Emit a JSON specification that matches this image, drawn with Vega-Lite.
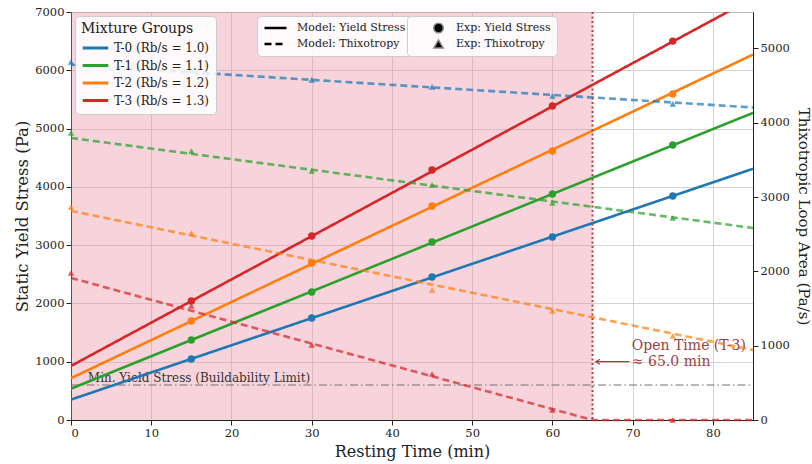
{
  "$schema": "https://vega.github.io/schema/vega-lite/v6.json",
  "width": 682,
  "height": 408,
  "autosize": {"type": "none"},
  "padding": {"left": 71, "top": 12, "right": 59, "bottom": 44},
  "background": "white",
  "config": {
    "font": "DejaVu Serif",
    "view": {"stroke": "#222222", "strokeWidth": 1},
    "axis": {
      "labelFont": "DejaVu Serif",
      "labelFontSize": 11.5,
      "labelColor": "#222222",
      "titleFont": "DejaVu Serif",
      "titleFontSize": 15,
      "titleFontWeight": "normal",
      "titleColor": "#222222",
      "domainColor": "#222222",
      "tickColor": "#222222",
      "tickSize": 5,
      "gridColor": "#cfcfcf",
      "gridWidth": 0.9,
      "format": "d"
    },
    "legend": {
      "labelFont": "DejaVu Serif",
      "titleFont": "DejaVu Serif",
      "labelFontSize": 12,
      "labelColor": "#222222",
      "titleFontSize": 14,
      "titleFontWeight": "normal",
      "titleColor": "#222222",
      "fillColor": "rgba(255,255,255,0.85)",
      "strokeColor": "#cccccc",
      "cornerRadius": 4,
      "padding": 6
    }
  },
  "datasets": {
    "zone": [{"t": 0, "t2": 65}],
    "openTime": [{"t": 65}],
    "minYield": [{"t": 0, "t2": 85, "ys": 600}],
    "minYieldLabel": [{"t": 2.1, "ys": 720, "label": "Min. Yield Stress (Buildability Limit)"}],
    "arrow": [{"t": 69.6, "t2": 65.4, "ys": 1000}],
    "arrowHead": [{"t": 65.4, "ys": 1000}],
    "openTimeLabel": [{"t": 69.9, "ys": 1270, "label": ["Open Time (T-3)", "≈ 65.0 min"]}],
    "yieldModel": [
      {"group": "T-0", "kind": "Model: Yield Stress", "t": 0, "ys": 350}, {"group": "T-0", "kind": "Model: Yield Stress", "t": 85, "ys": 4310},
      {"group": "T-1", "kind": "Model: Yield Stress", "t": 0, "ys": 537}, {"group": "T-1", "kind": "Model: Yield Stress", "t": 85, "ys": 5270},
      {"group": "T-2", "kind": "Model: Yield Stress", "t": 0, "ys": 718}, {"group": "T-2", "kind": "Model: Yield Stress", "t": 85, "ys": 6270},
      {"group": "T-3", "kind": "Model: Yield Stress", "t": 0, "ys": 928}, {"group": "T-3", "kind": "Model: Yield Stress", "t": 85, "ys": 7235}
    ],
    "yieldExp": [
      {"group": "T-0", "kind": "Exp: Yield Stress", "t": 15, "ys": 1046},
      {"group": "T-0", "kind": "Exp: Yield Stress", "t": 30, "ys": 1750},
      {"group": "T-0", "kind": "Exp: Yield Stress", "t": 45, "ys": 2453},
      {"group": "T-0", "kind": "Exp: Yield Stress", "t": 60, "ys": 3139},
      {"group": "T-0", "kind": "Exp: Yield Stress", "t": 75, "ys": 3842},
      {"group": "T-1", "kind": "Exp: Yield Stress", "t": 15, "ys": 1372},
      {"group": "T-1", "kind": "Exp: Yield Stress", "t": 30, "ys": 2196},
      {"group": "T-1", "kind": "Exp: Yield Stress", "t": 45, "ys": 3053},
      {"group": "T-1", "kind": "Exp: Yield Stress", "t": 60, "ys": 3877},
      {"group": "T-1", "kind": "Exp: Yield Stress", "t": 75, "ys": 4717},
      {"group": "T-2", "kind": "Exp: Yield Stress", "t": 15, "ys": 1698},
      {"group": "T-2", "kind": "Exp: Yield Stress", "t": 30, "ys": 2693},
      {"group": "T-2", "kind": "Exp: Yield Stress", "t": 45, "ys": 3671},
      {"group": "T-2", "kind": "Exp: Yield Stress", "t": 60, "ys": 4614},
      {"group": "T-2", "kind": "Exp: Yield Stress", "t": 75, "ys": 5592},
      {"group": "T-3", "kind": "Exp: Yield Stress", "t": 15, "ys": 2041},
      {"group": "T-3", "kind": "Exp: Yield Stress", "t": 30, "ys": 3156},
      {"group": "T-3", "kind": "Exp: Yield Stress", "t": 45, "ys": 4288},
      {"group": "T-3", "kind": "Exp: Yield Stress", "t": 60, "ys": 5386},
      {"group": "T-3", "kind": "Exp: Yield Stress", "t": 75, "ys": 6501}
    ],
    "thixoModel": [
      {"group": "T-0", "kind": "Model: Thixotropy", "t": 0, "area": 4780}, {"group": "T-0", "kind": "Model: Thixotropy", "t": 85, "area": 4205},
      {"group": "T-1", "kind": "Model: Thixotropy", "t": 0, "area": 3795}, {"group": "T-1", "kind": "Model: Thixotropy", "t": 85, "area": 2584},
      {"group": "T-2", "kind": "Model: Thixotropy", "t": 0, "area": 2813}, {"group": "T-2", "kind": "Model: Thixotropy", "t": 85, "area": 942},
      {"group": "T-3", "kind": "Model: Thixotropy", "t": 0, "area": 1911}, {"group": "T-3", "kind": "Model: Thixotropy", "t": 65, "area": 0},
      {"group": "T-3", "kind": "Model: Thixotropy", "t": 85, "area": 0}
    ],
    "thixoExp": [
      {"group": "T-0", "kind": "Exp: Thixotropy", "t": 0, "area": 4818},
      {"group": "T-0", "kind": "Exp: Thixotropy", "t": 15, "area": 4710},
      {"group": "T-0", "kind": "Exp: Thixotropy", "t": 30, "area": 4576},
      {"group": "T-0", "kind": "Exp: Thixotropy", "t": 45, "area": 4482},
      {"group": "T-0", "kind": "Exp: Thixotropy", "t": 60, "area": 4360},
      {"group": "T-0", "kind": "Exp: Thixotropy", "t": 75, "area": 4253},
      {"group": "T-1", "kind": "Exp: Thixotropy", "t": 0, "area": 3863},
      {"group": "T-1", "kind": "Exp: Thixotropy", "t": 15, "area": 3620},
      {"group": "T-1", "kind": "Exp: Thixotropy", "t": 30, "area": 3351},
      {"group": "T-1", "kind": "Exp: Thixotropy", "t": 45, "area": 3163},
      {"group": "T-1", "kind": "Exp: Thixotropy", "t": 60, "area": 2920},
      {"group": "T-1", "kind": "Exp: Thixotropy", "t": 75, "area": 2719},
      {"group": "T-2", "kind": "Exp: Thixotropy", "t": 0, "area": 2867},
      {"group": "T-2", "kind": "Exp: Thixotropy", "t": 15, "area": 2517},
      {"group": "T-2", "kind": "Exp: Thixotropy", "t": 30, "area": 2113},
      {"group": "T-2", "kind": "Exp: Thixotropy", "t": 45, "area": 1750},
      {"group": "T-2", "kind": "Exp: Thixotropy", "t": 60, "area": 1467},
      {"group": "T-2", "kind": "Exp: Thixotropy", "t": 75, "area": 1130},
      {"group": "T-3", "kind": "Exp: Thixotropy", "t": 0, "area": 1978},
      {"group": "T-3", "kind": "Exp: Thixotropy", "t": 15, "area": 1534},
      {"group": "T-3", "kind": "Exp: Thixotropy", "t": 30, "area": 1009},
      {"group": "T-3", "kind": "Exp: Thixotropy", "t": 45, "area": 619},
      {"group": "T-3", "kind": "Exp: Thixotropy", "t": 60, "area": 135},
      {"group": "T-3", "kind": "Exp: Thixotropy", "t": 75, "area": 0}
    ]
  },
  "encoding": {
    "x": {
      "field": "t",
      "type": "quantitative",
      "scale": {"domain": [0, 85], "nice": false, "zero": false},
      "axis": {
        "title": "Resting Time (min)",
        "values": [0, 10, 20, 30, 40, 50, 60, 70, 80],
        "grid": true,
        "titleFontSize": 16,
        "titlePadding": 5
      }
    }
  },
  "layer": [
    {
      "data": {"name": "zone"},
      "mark": {"type": "rect", "color": "#e8899a", "opacity": 0.36},
      "encoding": {"x2": {"field": "t2"}}
    },
    {
      "layer": [
        {
          "data": {"name": "minYield"},
          "mark": {"type": "rule", "color": "#707070", "strokeWidth": 1, "strokeDash": [8, 3, 1.5, 3]},
          "encoding": {
            "x2": {"field": "t2"},
            "y": {"field": "ys", "type": "quantitative", "scale": {"domain": [0, 7000], "nice": false}, "axis": {"title": "Static Yield Stress (Pa)", "titleFontSize": 16.5, "values": [0, 1000, 2000, 3000, 4000, 5000, 6000, 7000], "grid": true, "orient": "left"}}
          }
        },
        {
          "data": {"name": "minYieldLabel"},
          "mark": {"type": "text", "align": "left", "baseline": "middle", "fontSize": 12, "color": "#333333"},
          "encoding": {
            "y": {"field": "ys", "type": "quantitative", "scale": {"domain": [0, 7000], "nice": false}, "axis": {"title": "Static Yield Stress (Pa)", "titleFontSize": 16.5, "values": [0, 1000, 2000, 3000, 4000, 5000, 6000, 7000], "grid": true, "orient": "left"}},
            "text": {"field": "label"}
          }
        },
        {
          "data": {"name": "yieldModel"},
          "mark": {"type": "line", "strokeWidth": 2.6, "clip": true},
          "encoding": {
            "y": {"field": "ys", "type": "quantitative", "scale": {"domain": [0, 7000], "nice": false}, "axis": {"title": "Static Yield Stress (Pa)", "titleFontSize": 16.5, "values": [0, 1000, 2000, 3000, 4000, 5000, 6000, 7000], "grid": true, "orient": "left"}},
            "color": {
              "field": "group",
              "type": "nominal",
              "scale": {"domain": ["T-0", "T-1", "T-2", "T-3"], "range": ["#1f77b4", "#2ca02c", "#ff7f0e", "#d62728"]},
              "legend": {
                "title": "Mixture Groups",
                "orient": "top-left",
                "offset": 4,
                "symbolType": "stroke",
                "symbolStrokeWidth": 3,
                "symbolSize": 650,
                "symbolDash": [1, 0],
                "clipHeight": 14,
                "rowPadding": 3.5,
                "titlePadding": 5,
                "labelFontSize": 12,
                "labelExpr": "{'T-0': 'T-0 (Rb/s = 1.0)', 'T-1': 'T-1 (Rb/s = 1.1)', 'T-2': 'T-2 (Rb/s = 1.2)', 'T-3': 'T-3 (Rb/s = 1.3)'}[datum.label]"
              }
            },
            "strokeDash": {
              "field": "kind",
              "type": "nominal",
              "scale": {"domain": ["Model: Yield Stress", "Model: Thixotropy"], "range": [[1, 0], [7, 4]]},
              "legend": {
                "title": null,
                "orient": "none",
                "legendX": 186,
                "legendY": 4,
                "padding": 6,
                "symbolType": "stroke",
                "symbolSize": 484,
                "symbolStrokeWidth": 2.6,
                "symbolStrokeColor": "black",
                "clipHeight": 12,
                "rowPadding": 4,
                "labelFontSize": 11,
                "labelOffset": 9
              }
            }
          }
        },
        {
          "data": {"name": "yieldExp"},
          "mark": {"type": "point", "filled": true, "size": 55, "opacity": 1},
          "encoding": {
            "y": {"field": "ys", "type": "quantitative", "scale": {"domain": [0, 7000], "nice": false}, "axis": {"title": "Static Yield Stress (Pa)", "titleFontSize": 16.5, "values": [0, 1000, 2000, 3000, 4000, 5000, 6000, 7000], "grid": true, "orient": "left"}},
            "color": {"field": "group", "type": "nominal", "legend": null},
            "shape": {
              "field": "kind",
              "type": "nominal",
              "scale": {"domain": ["Exp: Yield Stress", "Exp: Thixotropy"], "range": ["circle", "triangle-up"]},
              "legend": {
                "title": null,
                "orient": "none",
                "legendX": 336,
                "legendY": 4,
                "padding": 6,
                "symbolSize": 90,
                "symbolOpacity": 1,
                "symbolFillColor": "black",
                "symbolOffset": 20,
                "clipHeight": 12,
                "rowPadding": 4,
                "labelFontSize": 11,
                "labelOffset": 12
              }
            }
          }
        },
        {
          "data": {"name": "arrow"},
          "mark": {"type": "rule", "color": "#a0403f", "strokeWidth": 1.2},
          "encoding": {
            "x2": {"field": "t2"},
            "y": {"field": "ys", "type": "quantitative", "scale": {"domain": [0, 7000], "nice": false}, "axis": {"title": "Static Yield Stress (Pa)", "titleFontSize": 16.5, "values": [0, 1000, 2000, 3000, 4000, 5000, 6000, 7000], "grid": true, "orient": "left"}}
          }
        },
        {
          "data": {"name": "arrowHead"},
          "mark": {"type": "point", "shape": "M 1 -0.6 L 0 0 L 1 0.6", "filled": false, "size": 70, "color": "#a0403f", "strokeWidth": 1.2, "opacity": 1},
          "encoding": {
            "y": {"field": "ys", "type": "quantitative", "scale": {"domain": [0, 7000], "nice": false}, "axis": {"title": "Static Yield Stress (Pa)", "titleFontSize": 16.5, "values": [0, 1000, 2000, 3000, 4000, 5000, 6000, 7000], "grid": true, "orient": "left"}}
          }
        },
        {
          "data": {"name": "openTimeLabel"},
          "mark": {"type": "text", "align": "left", "baseline": "middle", "fontSize": 14, "lineHeight": 16, "color": "#a0403f"},
          "encoding": {
            "y": {"field": "ys", "type": "quantitative", "scale": {"domain": [0, 7000], "nice": false}, "axis": {"title": "Static Yield Stress (Pa)", "titleFontSize": 16.5, "values": [0, 1000, 2000, 3000, 4000, 5000, 6000, 7000], "grid": true, "orient": "left"}},
            "text": {"field": "label"}
          }
        }
      ]
    },
    {
      "layer": [
        {
          "data": {"name": "thixoModel"},
          "mark": {"type": "line", "strokeWidth": 2.6, "opacity": 0.72},
          "encoding": {
            "y": {"field": "area", "type": "quantitative", "scale": {"domain": [0, 5490], "nice": false}, "axis": {"title": "Thixotropic Loop Area (Pa/s)", "titlePadding": 6, "values": [0, 1000, 2000, 3000, 4000, 5000], "grid": false, "orient": "right"}},
            "color": {"field": "group", "type": "nominal", "legend": null},
            "strokeDash": {"field": "kind", "type": "nominal", "legend": null}
          }
        },
        {
          "data": {"name": "thixoExp"},
          "mark": {"type": "point", "filled": true, "size": 42, "opacity": 0.72},
          "encoding": {
            "y": {"field": "area", "type": "quantitative", "scale": {"domain": [0, 5490], "nice": false}, "axis": {"title": "Thixotropic Loop Area (Pa/s)", "titlePadding": 6, "values": [0, 1000, 2000, 3000, 4000, 5000], "grid": false, "orient": "right"}},
            "color": {"field": "group", "type": "nominal", "legend": null},
            "shape": {"field": "kind", "type": "nominal", "legend": null}
          }
        }
      ]
    },
    {
      "data": {"name": "openTime"},
      "mark": {"type": "rule", "color": "#b5403f", "strokeWidth": 2, "strokeDash": [2, 2.5]},
      "encoding": {}
    }
  ],
  "resolve": {"scale": {"y": "independent"}}
}
